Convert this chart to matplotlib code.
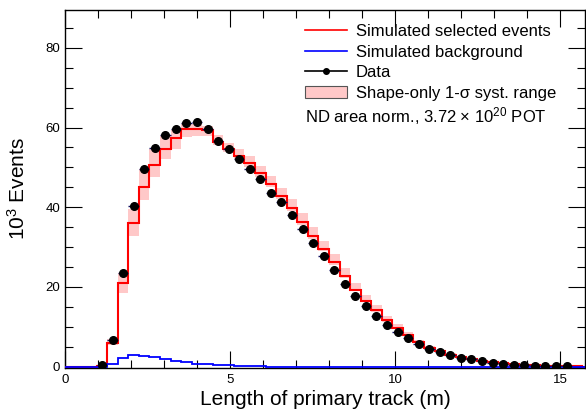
import matplotlib
matplotlib.use("Agg")
import matplotlib.pyplot as plt
import numpy as np
from matplotlib.lines import Line2D
from matplotlib.patches import Patch
from matplotlib.ticker import MultipleLocator

plt.rcParams['font.family'] = ['Liberation Sans', 'DejaVu Sans']
plt.rcParams['mathtext.fontset'] = 'custom'
plt.rcParams['mathtext.rm'] = 'Liberation Sans'
plt.rcParams['mathtext.it'] = 'Liberation Sans:italic'

# 50 bins of 0.32 m between 0 and 16 m
edges = np.linspace(0, 16, 51)

# simulated selected events (10^3), one value per bin
mc = [0, 0, 0, 0.2, 6.0, 21.0, 36.0, 45.1, 50.7, 54.7,
      57.4, 59.7, 59.7, 59.4, 56.4, 54.5, 52.8, 51.0, 48.5, 45.8,
      42.8, 39.8, 36.3, 32.8, 29.5, 26.2, 22.8, 19.3, 16.5, 14.1,
      11.6, 9.6, 8.0, 6.1, 4.7, 3.8, 3.0, 2.4, 1.9, 1.5,
      1.1, 0.8, 0.55, 0.4, 0.3, 0.2, 0.15, 0.1, 0.05, 0]

# shape-only syst. band
band_lo = [0, 0, 0, 0.1, 5.5, 18.5, 32.8, 41.7, 47.6, 52.2,
           54.7, 57.7, 57.9, 58.0, 55.6, 53.8, 52.0, 50.2, 47.7, 45.0,
           42.0, 39.0, 35.6, 32.1, 28.9, 25.6, 22.3, 18.9, 16.1, 13.8,
           11.3, 9.4, 7.8, 6.0, 4.6, 3.7, 2.9, 2.3, 1.85, 1.45,
           1.05, 0.75, 0.5, 0.36, 0.27, 0.18, 0.13, 0.09, 0.04, 0]
band_hi = [0, 0, 0, 0.3, 7.0, 23.5, 39.5, 49.5, 54.5, 57.8,
           59.5, 61.0, 61.0, 60.5, 58.2, 56.2, 54.6, 52.9, 50.4, 47.8,
           44.9, 42.0, 38.5, 35.0, 31.6, 28.2, 24.7, 21.0, 18.0, 15.4,
           12.7, 10.6, 8.8, 6.8, 5.2, 4.2, 3.3, 2.6, 2.1, 1.65,
           1.2, 0.9, 0.62, 0.45, 0.33, 0.23, 0.17, 0.11, 0.06, 0]

# simulated background
bkg = [0, 0, 0, 0, 0.75, 2.2, 2.8, 2.65, 2.3, 2.0,
       1.5, 1.15, 0.75, 0.55, 0.4, 0.3, 0.2, 0.1, 0.05, 0,
       0, 0, 0, 0, 0, 0, 0, 0, 0, 0,
       0, 0, 0, 0, 0, 0, 0, 0, 0, 0,
       0, 0, 0, 0, 0, 0, 0, 0, 0, 0]

# data, bins 3..47
data_first_bin = 3
data = [0.5, 6.8, 23.5, 40.3, 49.6, 54.8, 58.1, 59.6, 61.2, 61.5,
        59.6, 56.5, 54.7, 52.2, 49.7, 47.2, 43.5, 41.2, 38.1, 34.5,
        31.0, 27.7, 24.2, 20.8, 17.8, 15.2, 12.7, 10.5, 8.8, 7.2,
        5.7, 4.5, 3.6, 2.8, 2.2, 1.8, 1.4, 1.0, 0.75, 0.5,
        0.35, 0.25, 0.2, 0.15, 0.1]

centers = 0.5 * (edges[:-1] + edges[1:])
xd = centers[data_first_bin:data_first_bin + len(data)]

fig = plt.figure(figsize=(5.86, 4.12), dpi=100)
ax = fig.add_axes([65 / 586, 1 - 368 / 412, 520 / 586, 358 / 412])

band_col = '#ffc8c8'
ax.stairs(band_hi, edges, baseline=band_lo, fill=True, color=band_col, lw=0)
ax.stairs(mc, edges, color='red', lw=1.5, zorder=3)
ax.stairs(bkg, edges, color='blue', lw=1.3, zorder=3.1)
ax.errorbar(xd, data, xerr=0.16, fmt='o', color='black', ecolor='#101060',
            ms=5.5, elinewidth=1.0, capsize=0, zorder=5)

ax.set_xlim(0, 15.76)
ax.set_ylim(-0.35, 89.5)
ax.xaxis.set_major_locator(MultipleLocator(5))
ax.xaxis.set_minor_locator(MultipleLocator(1))
ax.yaxis.set_major_locator(MultipleLocator(20))
ax.yaxis.set_minor_locator(MultipleLocator(5))
ax.tick_params(which='both', direction='in', top=True, right=True, labelsize=9.5)
ax.tick_params(which='major', length=12, width=0.8)
ax.tick_params(which='minor', length=6, width=0.8)
ax.tick_params(axis='x', pad=4)
for s in ax.spines.values():
    s.set_linewidth(1.0)

ax.set_xlabel('Length of primary track (m)', fontsize=15, labelpad=3)
ax.set_ylabel('10$^3$ Events', fontsize=15, labelpad=12)

handles = [Line2D([], [], color='red', lw=1.2),
           Line2D([], [], color='blue', lw=1.2),
           Line2D([], [], color='black', lw=1.2, marker='o', ms=4),
           Patch(facecolor=band_col, edgecolor='#555555', lw=0.8)]
labels = ['Simulated selected events', 'Simulated background', 'Data',
          'Shape-only 1-σ syst. range']
fig.legend(handles, labels, loc='upper left', bbox_to_anchor=(305 / 586, 1 - 24 / 412),
           frameon=False, fontsize=12, handlelength=2.5, handletextpad=0.55,
           labelspacing=0.34, borderpad=0, borderaxespad=0)
fig.text(305 / 586, 1 - 116 / 412, 'ND area norm., 3.72 × 10$^{20}$ POT',
         fontsize=12, va='center', ha='left')

fig.savefig('out.png', dpi=100)
